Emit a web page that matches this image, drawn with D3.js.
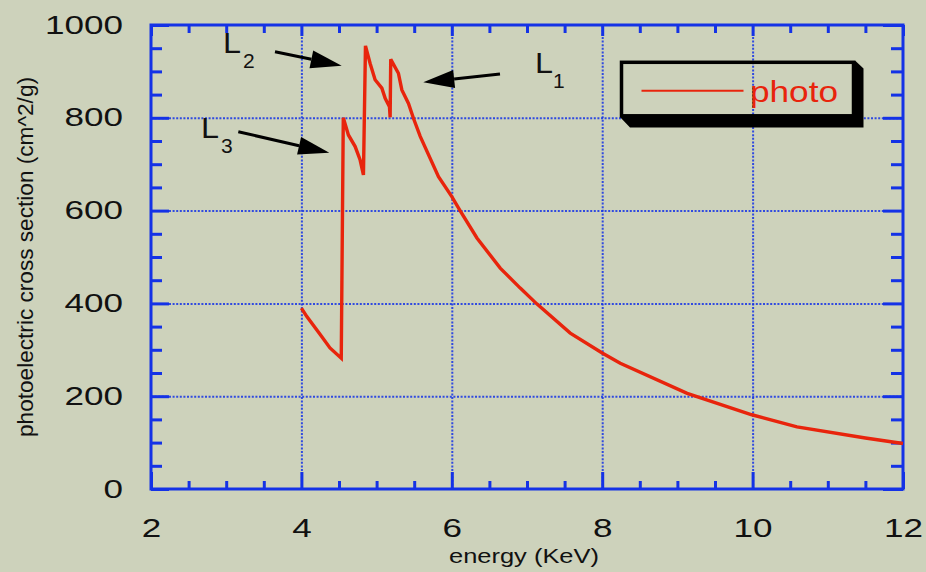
<!DOCTYPE html>
<html><head><meta charset="utf-8">
<script src="https://cdn.jsdelivr.net/npm/d3@7"></script>
<style>body{margin:0;background:#cdd2bb;} svg{display:block}</style>
</head><body><svg id="c" width="926" height="572"></svg>
<script>
// ---- data ----
const energy = [4.00, 4.07, 4.25, 4.38, 4.53, 4.557, 4.625, 4.715, 4.781, 4.825,
  4.852, 4.914, 4.98, 5.07, 5.114, 5.171, 5.18, 5.188, 5.29, 5.336, 5.424, 5.49, 5.58,
  5.823, 6.0, 6.11, 6.334, 6.644, 6.91, 7.13, 7.575, 8.0, 8.24, 9.13, 9.99,
  10.59, 11.5, 12.0];
const photo = [390, 372, 333, 304, 282, 800, 763, 738, 709, 677,
  955, 917, 882, 864, 842, 824, 801, 926, 896, 860, 831, 799, 760,
  673, 630, 600, 541, 476, 433, 399, 336, 293, 271, 206, 160,
  134, 110, 98];
const seriesName = "photo";
const xMajorTicks = [2, 4, 6, 8, 10, 12];
const xTickLabels = ["2", "4", "6", "8", "10", "12"];
const xMinorTicks = [2.5, 3, 3.5, 4.5, 5, 5.5, 6.5, 7, 7.5, 8.5, 9, 9.5, 10.5, 11, 11.5];
const xGridTicks = [4, 6, 8, 10];
const yMajorTicks = [0, 200, 400, 600, 800, 1000];
const yTickLabels = ["0", "200", "400", "600", "800", "1000"];
const yMinorTicks = [50, 100, 150, 250, 300, 350, 450, 500, 550, 650, 700, 750, 850, 900, 950];
const yGridTicks = [200, 400, 600, 800];
const xTitle = "energy (KeV)";
const yTitle = "photoelectric cross section (cm^2/g)";
// edge annotations (data space)
const edgeNames = ["L", "L", "L"];
const edgeSubs = ["2", "3", "1"];
const edgeLabelPos = [[2.957, 939.7], [2.665, 756.5], [7.106, 896.6]];
const edgeSubPos = [[3.223, 907.3], [2.931, 724.1], [7.346, 864.2]];
const arrowTail = [[3.649, 942.5], [3.161, 770.0], [6.641, 894.4]];
const arrowTip = [[4.536, 912.3], [4.371, 724.8], [5.621, 876.5]];

// ---- drawing ----
const svg = d3.select("#c");
const W = 926, H = 572;
const BG = "#cdd2bb", BLUE = "#1432e6", RED = "#e8240c";
const FONT = "'Liberation Sans', Arial, Helvetica, sans-serif";
svg.append("rect").attr("width", W).attr("height", H).attr("fill", BG);

const x = d3.scaleLinear().domain([2, 12]).range([151, 903]);
const y = d3.scaleLinear().domain([0, 1000]).range([489, 25]);
const pw = x(12) - x(2), ph = y(0) - y(1000);

function styleTicks(g, w) {
  g.select(".domain").remove();
  g.selectAll(".tick line").attr("stroke", BLUE).attr("stroke-width", w);
}
// grid
const gx = svg.append("g").attr("transform", `translate(0,${y(0)})`)
  .call(d3.axisBottom(x).tickValues(xGridTicks).tickSize(-ph).tickFormat(""));
gx.select(".domain").remove();
gx.selectAll(".tick line").attr("stroke", BLUE).attr("stroke-width", 2).attr("stroke-dasharray", "2,1.6").attr("opacity", 0.85);
const gy = svg.append("g").attr("transform", `translate(${x(2)},0)`)
  .call(d3.axisLeft(y).tickValues(yGridTicks).tickSize(-pw).tickFormat(""));
gy.select(".domain").remove();
gy.selectAll(".tick line").attr("stroke", BLUE).attr("stroke-width", 2).attr("stroke-dasharray", "2,1.6").attr("opacity", 0.85);

// bottom axis
const bMaj = svg.append("g").attr("transform", `translate(0,${y(0)})`)
  .call(d3.axisBottom(x).tickValues(xMajorTicks).tickSize(-17).tickPadding(30)
    .tickFormat((d, i) => xTickLabels[i]));
styleTicks(bMaj, 3);
svg.append("g").attr("transform", `translate(0,${y(0)})`)
  .call(d3.axisBottom(x).tickValues(xMinorTicks).tickSize(-8).tickFormat(""))
  .call(g => styleTicks(g, 3));
// top axis
svg.append("g").attr("transform", `translate(0,${y(1000)})`)
  .call(d3.axisTop(x).tickValues(xMajorTicks).tickSize(-11).tickFormat(""))
  .call(g => styleTicks(g, 3));
svg.append("g").attr("transform", `translate(0,${y(1000)})`)
  .call(d3.axisTop(x).tickValues(xMinorTicks).tickSize(-8).tickFormat(""))
  .call(g => styleTicks(g, 3));
// left axis
const lMaj = svg.append("g").attr("transform", `translate(${x(2)},0)`)
  .call(d3.axisLeft(y).tickValues(yMajorTicks).tickSize(-18).tickPadding(28)
    .tickFormat((d, i) => yTickLabels[i]));
styleTicks(lMaj, 3);
svg.append("g").attr("transform", `translate(${x(2)},0)`)
  .call(d3.axisLeft(y).tickValues(yMinorTicks).tickSize(-11).tickFormat(""))
  .call(g => styleTicks(g, 3));
// right axis
svg.append("g").attr("transform", `translate(${x(12)},0)`)
  .call(d3.axisRight(y).tickValues(yMajorTicks).tickSize(-20).tickFormat(""))
  .call(g => styleTicks(g, 3));
svg.append("g").attr("transform", `translate(${x(12)},0)`)
  .call(d3.axisRight(y).tickValues(yMinorTicks).tickSize(-12).tickFormat(""))
  .call(g => styleTicks(g, 3));

[bMaj, lMaj].forEach(g => {
  g.attr("font-size", 25).attr("font-family", FONT);
  g.selectAll("text").attr("fill", "#111")
    .attr("textLength", function () { return this.textContent.length * 19.5; })
    .attr("lengthAdjust", "spacingAndGlyphs");
});

// frame
svg.append("rect").attr("x", x(2)).attr("y", y(1000)).attr("width", pw).attr("height", ph)
  .attr("fill", "none").attr("stroke", BLUE).attr("stroke-width", 3);

// curve
const idx = d3.range(energy.length);
svg.append("path").datum(idx)
  .attr("d", d3.line().x(i => x(energy[i])).y(i => y(photo[i])))
  .attr("fill", "none").attr("stroke", RED).attr("stroke-width", 3.4)
  .attr("stroke-linejoin", "miter").attr("stroke-miterlimit", 3);

// titles
svg.append("text").attr("x", 524).attr("y", 562.5).attr("text-anchor", "middle")
  .attr("font-family", FONT).attr("font-size", 20).attr("fill", "#111")
  .attr("textLength", 150).attr("lengthAdjust", "spacingAndGlyphs").text(xTitle);
svg.append("text").attr("transform", "translate(33,257) rotate(-90)").attr("text-anchor", "middle")
  .attr("font-family", FONT).attr("font-size", 22).attr("fill", "#111")
  .attr("textLength", 360).attr("lengthAdjust", "spacingAndGlyphs").text(yTitle);

// annotations
const ann = svg.append("g");
edgeNames.forEach((n, i) => {
  ann.append("text").attr("x", x(edgeLabelPos[i][0])).attr("y", y(edgeLabelPos[i][1]))
    .attr("font-family", FONT).attr("font-size", 29).attr("fill", "#111")
    .attr("textLength", 18).attr("lengthAdjust", "spacingAndGlyphs").text(n);
  ann.append("text").attr("x", x(edgeSubPos[i][0])).attr("y", y(edgeSubPos[i][1]))
    .attr("font-family", FONT).attr("font-size", 21).attr("fill", "#111").text(edgeSubs[i]);
  const tx = x(arrowTail[i][0]), ty = y(arrowTail[i][1]);
  const hx = x(arrowTip[i][0]), hy = y(arrowTip[i][1]);
  const ang = Math.atan2(hy - ty, hx - tx);
  const L = 31, hw = 9;
  const bx = hx - L * Math.cos(ang), by = hy - L * Math.sin(ang);
  ann.append("line").attr("x1", tx).attr("y1", ty).attr("x2", bx).attr("y2", by)
    .attr("stroke", "#000").attr("stroke-width", 3);
  ann.append("polygon").attr("points", [
    [hx, hy],
    [bx + hw * Math.sin(ang), by - hw * Math.cos(ang)],
    [bx - hw * Math.sin(ang), by + hw * Math.cos(ang)]
  ].map(p => p.join(",")).join(" ")).attr("fill", "#000");
});

// legend
const lg = svg.append("g");
lg.append("polygon").attr("points", "620,117 630,127.5 863.5,127.5 863.5,68.5 855,60.5 855,117").attr("fill", "#000");
lg.append("rect").attr("x", 621.5).attr("y", 62.3).attr("width", 232).attr("height", 53.5)
  .attr("fill", "none").attr("stroke", "#000").attr("stroke-width", 3.5);
lg.append("line").attr("x1", 641.5).attr("x2", 743.5).attr("y1", 90.7).attr("y2", 90.7)
  .attr("stroke", RED).attr("stroke-width", 2);
lg.append("text").attr("x", 750).attr("y", 101.7).attr("font-family", FONT).attr("font-size", 30)
  .attr("fill", RED).attr("textLength", 88).attr("lengthAdjust", "spacingAndGlyphs").text(seriesName);
</script></body></html>
